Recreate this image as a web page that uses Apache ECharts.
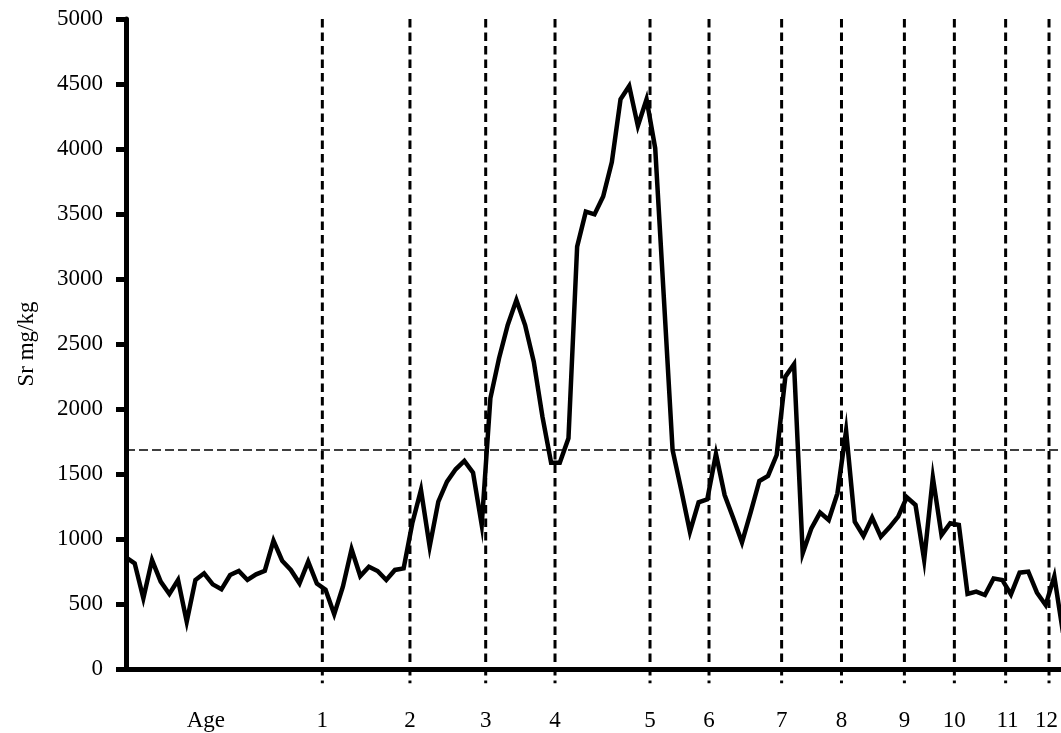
<!DOCTYPE html>
<html>
<head>
<meta charset="utf-8">
<title>Sr mg/kg</title>
<script src="https://cdn.jsdelivr.net/npm/echarts@6/dist/echarts.min.js"></script>
<style>
  html, body { margin: 0; padding: 0; background: #ffffff; }
  #chart { width: 1061px; height: 733px; }
</style>
</head>
<body>
<div id="chart"></div>
<script>
// Sr concentration (mg/kg) along the transect, one value per sample
const srValues = [
  859, 813, 544, 838, 672, 577, 685, 364, 685, 736,
  651, 613, 723, 754, 685, 728, 756, 987, 833, 762,
  659, 826, 657, 610, 421, 633, 921, 715, 787, 754,
  685, 762, 774, 1121, 1377, 941, 1287, 1441, 1536, 1600,
  1510, 1108, 2082, 2390, 2646, 2838, 2646, 2364, 1941, 1587,
  1587, 1774, 3249, 3518, 3497, 3635, 3900, 4382, 4485, 4177,
  4382, 4005, 2850, 1685, 1377, 1056, 1282, 1305, 1654, 1338,
  1159, 974, 1205, 1446, 1485, 1646, 2249, 2344, 890, 1082,
  1203, 1146, 1351, 1833, 1133, 1023, 1164, 1018, 1090, 1172,
  1321, 1262, 838, 1474, 1031, 1121, 1108, 577, 595, 569,
  697, 685, 574, 741, 749, 587, 492, 713, 280
];

// Annual growth marks (sample position of each age boundary)
const ageMarks = [22.63, 32.73, 41.46, 49.45, 60.40, 67.20, 75.57, 82.47, 89.72, 95.48, 101.39, 106.39];

// Bottom labels and where they sit along the sample axis
const xLabelText = ['Age', '1', '2', '3', '4', '5', '6', '7', '8', '9', '10', '11', '12'];
const xLabelAt = [9.2, 22.63, 32.73, 41.46, 49.45, 60.40, 67.20, 75.57, 82.47, 89.72, 95.48, 101.6, 106.1];

// Threshold level (mg/kg)
const thresholdSr = 1690;

// Y axis range and step
const yMin = 0, yMax = 5000, yStep = 500;
const xMax = 107.77;
// growth-mark lines run a little below the baseline
const markBottom = -110;

const chart = echarts.init(document.getElementById('chart'), null, { renderer: 'canvas' });

const serif = '"Liberation Serif", "DejaVu Serif", serif';

// one dashed vertical line per growth mark
const markSeries = ageMarks.map(function (pos) {
  return {
    type: 'line',
    data: [[pos, yMax], [pos, markBottom]],
    showSymbol: false,
    symbol: 'none',
    clip: false,
    silent: true,
    z: 1,
    lineStyle: { color: '#000', width: 3, type: [8.5, 5], cap: 'butt' }
  };
});

chart.setOption({
  animation: false,
  backgroundColor: '#ffffff',
  grid: { left: 126, top: 19, right: 0, bottom: 64, containLabel: false },
  xAxis: {
    type: 'value',
    min: 0,
    max: xMax,
    axisLine: { show: true, onZero: false, lineStyle: { color: '#000', width: 5 } },
    axisTick: { show: false },
    splitLine: { show: false },
    axisLabel: {
      show: true,
      customValues: xLabelAt,
      margin: 40,
      color: '#000',
      fontFamily: serif,
      fontSize: 23,
      formatter: function (v) {
        const i = xLabelAt.indexOf(v);
        return i >= 0 ? xLabelText[i] : '';
      }
    }
  },
  yAxis: {
    type: 'value',
    min: yMin,
    max: yMax,
    interval: yStep,
    name: 'Sr mg/kg',
    nameLocation: 'middle',
    nameGap: 88,
    nameRotate: 90,
    nameTextStyle: { color: '#000', fontFamily: serif, fontSize: 23 },
    axisLine: { show: true, lineStyle: { color: '#000', width: 5 } },
    axisTick: { show: true, inside: false, length: 10, lineStyle: { color: '#000', width: 5 } },
    splitLine: { show: false },
    axisLabel: {
      color: '#000', fontFamily: serif, fontSize: 23, margin: 23,
      formatter: function (v) { return String(v); }
    }
  },
  series: [{
    type: 'line',
    data: srValues.map(function (v, i) { return [i, v]; }),
    showSymbol: false,
    symbol: 'none',
    clip: true,
    z: 3,
    lineStyle: { color: '#000', width: 4.5, join: 'miter', cap: 'butt' },
    markLine: {
      silent: true,
      symbol: ['none', 'none'],
      label: { show: false },
      emphasis: { disabled: true },
      lineStyle: { color: '#000', width: 1.6, type: [9, 4] },
      data: [{ yAxis: thresholdSr }]
    }
  }].concat(markSeries)
});
</script>
</body>
</html>
